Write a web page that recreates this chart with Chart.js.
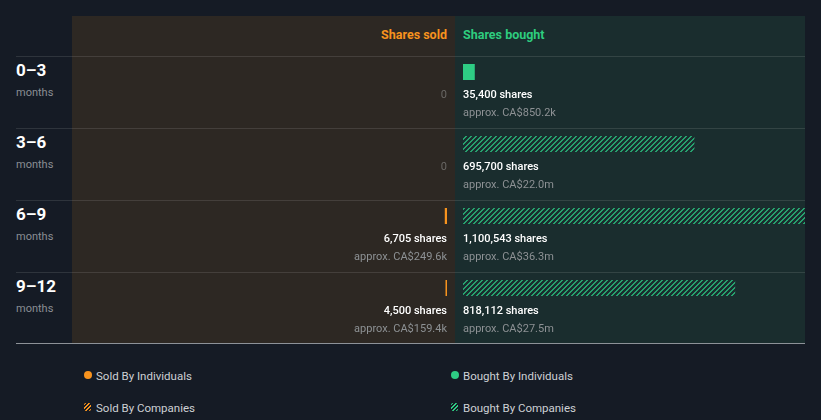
<!DOCTYPE html>
<html>
<head>
<meta charset="utf-8">
<script src="https://cdn.jsdelivr.net/npm/chart.js@4/dist/chart.umd.min.js"></script>
<style>
  html,body{margin:0;padding:0;background:#151b25;width:821px;height:420px;overflow:hidden;font-family:Roboto,"Noto Sans",sans-serif;}
  .abs{position:absolute;}
  #panelL{left:72px;top:16px;width:383px;height:328px;background:#2d2823;}
  #panelR{left:455px;top:16px;width:350px;height:328px;background:#1a2d2e;}
  .sep{left:16px;width:789px;height:1px;background:rgba(255,255,255,0.11);}
  #bottomLine{left:16px;top:343px;width:789px;height:1px;background:#8d9298;}
  .hdr{top:27px;font-size:12.5px;font-weight:700;line-height:16px;}
  #hdrL{right:374px;color:#f7931e;text-align:right;}
  #hdrR{left:463px;color:#2ecc7f;}
  .rowLab{left:16px;color:#fff;font-weight:700;font-size:17px;line-height:20px;}
  .rowSub{left:16px;color:#8a8e94;font-size:11px;line-height:14px;}
  canvas{position:absolute;}
  .leg{font-size:11.5px;color:#cdd0d4;line-height:14px;}
  .dot{width:8px;height:8px;border-radius:50%;}
  .hatch{width:7px;height:8px;border-radius:2px;}
</style>
</head>
<body>
<div id="panelL" class="abs"></div>
<div id="panelR" class="abs"></div>
<div id="seps"></div>
<div id="bottomLine" class="abs"></div>
<div id="hdrL" class="abs hdr">Shares sold</div>
<div id="hdrR" class="abs hdr">Shares bought</div>
<div id="rowLabels"></div>
<canvas id="cL" width="383" height="328" style="left:72px;top:16px;width:383px;height:328px;"></canvas>
<canvas id="cR" width="350" height="328" style="left:455px;top:16px;width:350px;height:328px;"></canvas>
<div id="legend"></div>
<script>
// ---- data ----
const categories = ['0–3', '3–6', '6–9', '9–12'];
const categoryUnit = 'months';
const soldIndividuals = [0, 0, 6705, 4500];
const soldCompanies = [0, 0, 0, 0];
const boughtIndividuals = [35400, 0, 0, 0];
const boughtCompanies = [0, 695700, 1100543, 818112];
const soldValueLabels = ['', '', 'approx. CA$249.6k', 'approx. CA$159.4k'];
const boughtValueLabels = ['approx. CA$850.2k', 'approx. CA$22.0m', 'approx. CA$36.3m', 'approx. CA$27.5m'];
const legendLabels = ['Sold By Individuals', 'Bought By Individuals', 'Sold By Companies', 'Bought By Companies'];

// ---- styling ----
const ORANGE = '#f7931e';
const GREEN = '#2ecc84';
const HATCH_GREEN = '#27a06e';
const HATCH_ORANGE = '#c7741a';
const AXIS_MAX_R = 1028000;               // shares across right plot width
const AXIS_MAX_L = AXIS_MAX_R * 375 / 342; // same px-per-share on the left

// static decorations
const seps = document.getElementById('seps');
[56, 128, 200, 272].forEach(y => {
  const d = document.createElement('div');
  d.className = 'abs sep'; d.style.top = y + 'px';
  seps.appendChild(d);
});
const rl = document.getElementById('rowLabels');
categories.forEach((c, i) => {
  const top = 56 + 72 * i;
  const a = document.createElement('div');
  a.className = 'abs rowLab'; a.style.top = (top + 4) + 'px'; a.textContent = c;
  rl.appendChild(a);
  const b = document.createElement('div');
  b.className = 'abs rowSub'; b.style.top = (top + 30) + 'px'; b.textContent = categoryUnit;
  rl.appendChild(b);
});

function makeHatch(color) {
  const s = 5;
  const c = document.createElement('canvas');
  c.width = s; c.height = s;
  const ctx = c.getContext('2d');
  const img = ctx.createImageData(s, s);
  const r = parseInt(color.slice(1,3),16), g = parseInt(color.slice(3,5),16), b = parseInt(color.slice(5,7),16);
  for (let y = 0; y < s; y++) for (let x = 0; x < s; x++) {
    if ((x + y) % s < 2) {
      const k = (y * s + x) * 4;
      img.data[k] = r; img.data[k+1] = g; img.data[k+2] = b; img.data[k+3] = 255;
    }
  }
  ctx.putImageData(img, 0, 0);
  return ctx.createPattern(c, 'repeat');
}

function fmt(v) { return v === 0 ? '0' : v.toLocaleString('en-US') + ' shares'; }
const nz = arr => arr.map(v => (v === 0 ? null : v));

function labelPlugin(side, totals, valueLabels) {
  return {
    id: 'lbl' + side,
    afterDatasetsDraw(chart) {
      const ctx = chart.ctx, ys = chart.scales.y, area = chart.chartArea;
      ctx.save();
      ctx.textBaseline = 'middle';
      ctx.textAlign = side === 'L' ? 'right' : 'left';
      const x = side === 'L' ? area.right : area.left;
      totals.forEach((v, i) => {
        const y = ys.getPixelForValue(i);
        if (v === 0) {
          ctx.font = '11px Roboto';
          ctx.fillStyle = '#6a6865';
          ctx.fillText('0', x, y + 23);
        } else {
          ctx.font = '500 11px Roboto';
          ctx.fillStyle = '#ffffff';
          ctx.fillText(fmt(v), x, y + 23);
          ctx.font = '11px Roboto';
          ctx.fillStyle = '#8d9194';
          ctx.fillText(valueLabels[i], x, y + 41);
        }
      });
      ctx.restore();
    }
  };
}

function makeChart(id, side, dsets, max, totals, valueLabels) {
  return new Chart(document.getElementById(id), {
    type: 'bar',
    data: { labels: categories, datasets: dsets },
    options: {
      indexAxis: 'y',
      responsive: false,
      animation: false,
      skipNull: true,
      datasets: { bar: { inflateAmount: 0, barThickness: 16 } },
      layout: { padding: side === 'L' ? {top: 20, bottom: 20, left: 0, right: 8} : {top: 20, bottom: 20, left: 8, right: 0} },
      plugins: { legend: { display: false }, tooltip: { enabled: false } },
      scales: {
        x: { display: false, stacked: true, min: 0, max: max, reverse: side === 'L' },
        y: { display: false, stacked: true }
      }
    },
    plugins: [labelPlugin(side, totals, valueLabels)]
  });
}

const soldTotals = soldIndividuals.map((v, i) => v + soldCompanies[i]);
const boughtTotals = boughtIndividuals.map((v, i) => v + boughtCompanies[i]);

makeChart('cL', 'L', [
  { label: legendLabels[0], data: nz(soldIndividuals), backgroundColor: ORANGE },
  { label: legendLabels[2], data: nz(soldCompanies), backgroundColor: makeHatch(HATCH_ORANGE) }
], AXIS_MAX_L, soldTotals, soldValueLabels);

makeChart('cR', 'R', [
  { label: legendLabels[1], data: nz(boughtIndividuals), backgroundColor: GREEN },
  { label: legendLabels[3], data: nz(boughtCompanies), backgroundColor: makeHatch(HATCH_GREEN) }
], AXIS_MAX_R, boughtTotals, boughtValueLabels);

// legend
const leg = document.getElementById('legend');
const legPos = [[84, 371], [451, 371], [84, 403], [451, 403]];
const legIcon = [
  'background:' + ORANGE, 'background:' + GREEN,
  'background:repeating-linear-gradient(135deg,' + ORANGE + ' 0 1.5px,#151b25 1.5px 3px)',
  'background:repeating-linear-gradient(135deg,' + GREEN + ' 0 1.5px,#151b25 1.5px 3px)'
];
legendLabels.forEach((t, i) => {
  const ic = document.createElement('div');
  ic.className = 'abs ' + (i < 2 ? 'dot' : 'hatch');
  ic.style.cssText += 'left:' + legPos[i][0] + 'px;top:' + legPos[i][1] + 'px;' + legIcon[i];
  leg.appendChild(ic);
  const tx = document.createElement('div');
  tx.className = 'abs leg';
  tx.style.left = (legPos[i][0] + 12) + 'px';
  tx.style.top = (legPos[i][1] - 2) + 'px';
  tx.textContent = t;
  leg.appendChild(tx);
});
</script>
</body>
</html>
